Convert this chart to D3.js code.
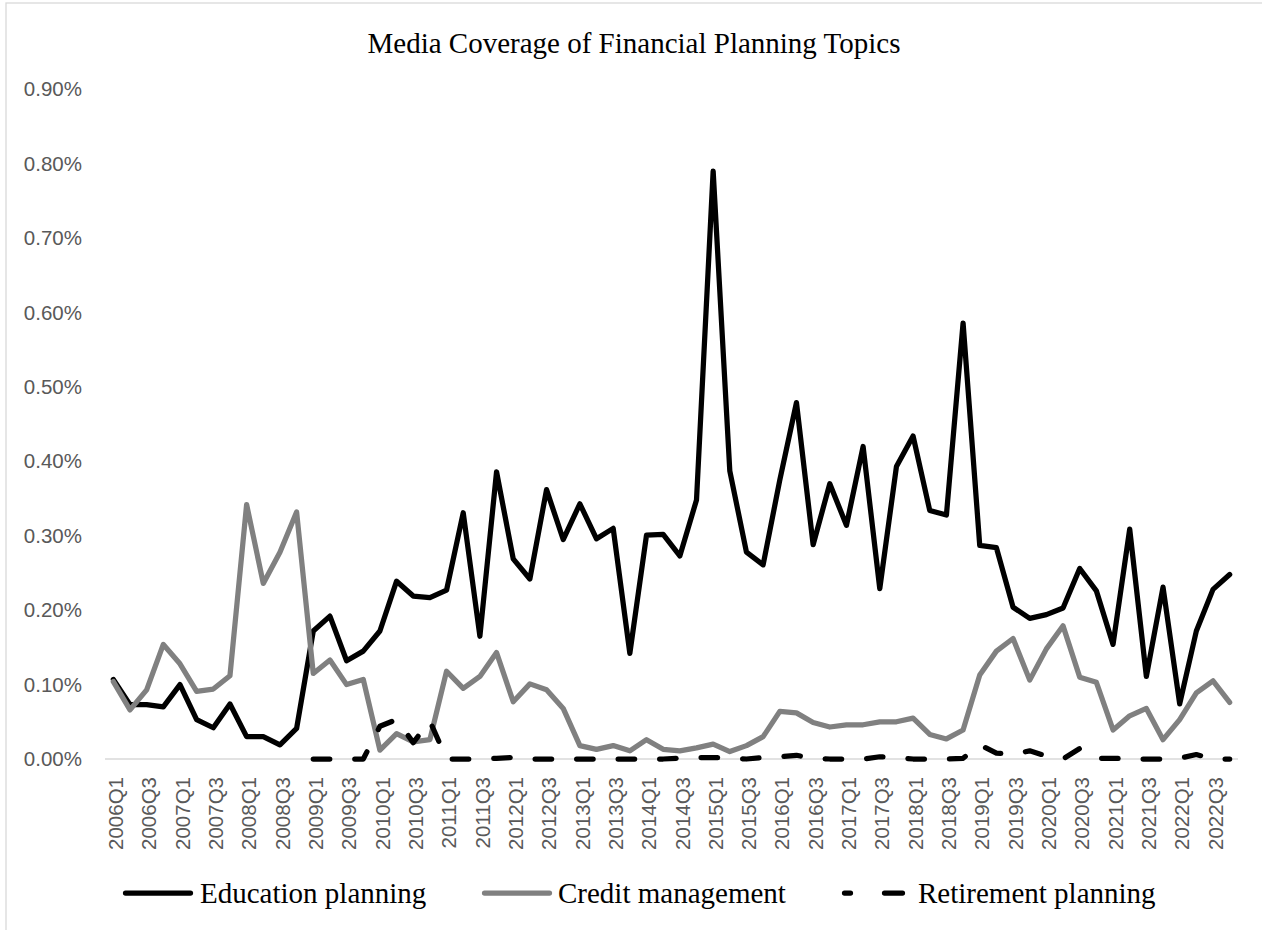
<!DOCTYPE html>
<html>
<head>
<meta charset="utf-8">
<script src="https://cdn.jsdelivr.net/npm/d3@7/dist/d3.min.js"></script>
<style>
  html, body { margin: 0; padding: 0; background: #fff; }
  svg { display: block; }
</style>
</head>
<body>
<svg id="chart" width="1262" height="930"></svg>
<script>
// Quarterly share of media coverage (in percent) for three planning topics
const quarters = [
  "2006Q1","2006Q2","2006Q3","2006Q4","2007Q1","2007Q2","2007Q3","2007Q4",
  "2008Q1","2008Q2","2008Q3","2008Q4","2009Q1","2009Q2","2009Q3","2009Q4",
  "2010Q1","2010Q2","2010Q3","2010Q4","2011Q1","2011Q2","2011Q3","2011Q4",
  "2012Q1","2012Q2","2012Q3","2012Q4","2013Q1","2013Q2","2013Q3","2013Q4",
  "2014Q1","2014Q2","2014Q3","2014Q4","2015Q1","2015Q2","2015Q3","2015Q4",
  "2016Q1","2016Q2","2016Q3","2016Q4","2017Q1","2017Q2","2017Q3","2017Q4",
  "2018Q1","2018Q2","2018Q3","2018Q4","2019Q1","2019Q2","2019Q3","2019Q4",
  "2020Q1","2020Q2","2020Q3","2020Q4","2021Q1","2021Q2","2021Q3","2021Q4",
  "2022Q1","2022Q2","2022Q3","2022Q4"
];

const educationPlanning = [
  0.107, 0.073, 0.073, 0.070, 0.100, 0.053, 0.042, 0.074,
  0.030, 0.030, 0.019, 0.041, 0.172, 0.192, 0.132, 0.145,
  0.172, 0.239, 0.219, 0.217, 0.227, 0.331, 0.165, 0.386,
  0.269, 0.242, 0.362, 0.295, 0.343, 0.296, 0.310, 0.142,
  0.301, 0.302, 0.273, 0.348, 0.790, 0.387, 0.278, 0.261,
  0.375, 0.479, 0.288, 0.370, 0.314, 0.420, 0.229, 0.393,
  0.434, 0.334, 0.328, 0.586, 0.287, 0.284, 0.204, 0.189,
  0.194, 0.203, 0.256, 0.226, 0.154, 0.309, 0.111, 0.231,
  0.074, 0.172, 0.228, 0.248
];

const creditManagement = [
  0.104, 0.066, 0.093, 0.154, 0.128, 0.091, 0.094, 0.112,
  0.342, 0.236, 0.278, 0.332, 0.115, 0.133, 0.100, 0.107,
  0.012, 0.034, 0.023, 0.026, 0.118, 0.095, 0.111, 0.143,
  0.077, 0.101, 0.093, 0.068, 0.018, 0.013, 0.018, 0.011,
  0.026, 0.013, 0.011, 0.015, 0.020, 0.010, 0.018, 0.030,
  0.064, 0.062, 0.049, 0.043, 0.046, 0.046, 0.050, 0.050,
  0.055, 0.033, 0.027, 0.039, 0.113, 0.145, 0.162, 0.106,
  0.148, 0.179, 0.110, 0.103, 0.039, 0.058, 0.068, 0.026,
  0.053, 0.089, 0.105, 0.076
];

// Retirement planning series has no observations before 2009Q1
const retirementPlanning = [
  null, null, null, null, null, null, null, null,
  null, null, null, null, 0.000, 0.000, 0.000, 0.000,
  0.044, 0.053, 0.022, 0.051, 0.000, 0.000, 0.000, 0.001,
  0.002, 0.000, 0.000, 0.000, 0.000, 0.000, 0.000, 0.000,
  0.000, 0.000, 0.001, 0.002, 0.002, 0.001, 0.000, 0.002,
  0.003, 0.005, 0.001, 0.000, 0.000, 0.000, 0.003, 0.002,
  0.000, 0.000, 0.000, 0.001, 0.019, 0.008, 0.006, 0.011,
  0.004, 0.000, 0.014, 0.001, 0.001, 0.000, 0.000, 0.000,
  0.001, 0.006, 0.000, 0.000
];

const yTicks = [0, 0.1, 0.2, 0.3, 0.4, 0.5, 0.6, 0.7, 0.8, 0.9];
const xTickLabels = quarters.filter((q, i) => i % 2 === 0);

const seriesNames = ["Education planning", "Credit management", "Retirement planning"];

const svg = d3.select("#chart");

// chart-area frame
svg.append("rect")
  .attr("x", 6).attr("y", 3)
  .attr("width", 1270).attr("height", 940)
  .attr("fill", "#fff")
  .attr("stroke", "#d9d9d9")
  .attr("stroke-width", 1.3);

const plot = { left: 105, right: 1238, top: 89.4, bottom: 759 };

const x = d3.scalePoint()
  .domain(quarters)
  .range([plot.left, plot.right])
  .padding(0.5);

const y = d3.scaleLinear()
  .domain([0, 0.9])
  .range([plot.bottom, plot.top]);

// title
svg.append("text")
  .attr("x", 634).attr("y", 53)
  .attr("text-anchor", "middle")
  .attr("font-family", "'Liberation Serif', 'Times New Roman', serif")
  .attr("font-size", 29)
  .attr("fill", "#000")
  .text("Media Coverage of Financial Planning Topics");

// y axis labels
const yAxis = d3.axisLeft(y)
  .tickValues(yTicks)
  .tickSize(0)
  .tickPadding(23)
  .tickFormat(d => d.toFixed(2) + "%");

const gy = svg.append("g")
  .attr("transform", `translate(${plot.left},0)`)
  .call(yAxis);
gy.select(".domain").remove();
gy.selectAll("text")
  .attr("font-family", "'Liberation Sans', Arial, sans-serif")
  .attr("font-size", 20.5)
  .attr("fill", "#595959");

// x axis with rotated quarter labels
const xAxis = d3.axisBottom(x)
  .tickValues(xTickLabels)
  .tickSize(0)
  .tickSizeOuter(0);

const gx = svg.append("g")
  .attr("transform", `translate(0,${plot.bottom})`)
  .call(xAxis);
gx.select(".domain")
  .attr("d", `M${plot.left},0H${plot.right}`)
  .attr("stroke", "#d9d9d9")
  .attr("stroke-width", 1.5);
gx.selectAll("text")
  .attr("font-family", "'Liberation Sans', Arial, sans-serif")
  .attr("font-size", 20.5)
  .attr("fill", "#595959")
  .attr("text-anchor", "end")
  .attr("transform", "rotate(-90)")
  .attr("x", -18)
  .attr("y", 2)
  .attr("dy", "0.35em");

// series lines
const line = d3.line()
  .defined(d => d.v !== null)
  .x(d => x(d.q))
  .y(d => y(d.v));

const toPoints = arr => quarters.map((q, i) => ({ q, v: arr[i] }));

const seriesStyles = [
  { data: educationPlanning, color: "#000000", dash: null },
  { data: creditManagement, color: "#808080", dash: null },
  { data: retirementPlanning, color: "#000000", dash: "16.5,25" }
];

const lineWidth = 5.25;

seriesStyles.forEach(s => {
  svg.append("path")
    .datum(toPoints(s.data))
    .attr("d", line)
    .attr("fill", "none")
    .attr("stroke", s.color)
    .attr("stroke-width", lineWidth)
    .attr("stroke-linejoin", "round")
    .attr("stroke-linecap", "round")
    .attr("stroke-dasharray", s.dash);
});

// legend
const legendItems = [
  { x1: 125.5, x2: 190.5, tx: 200, color: "#000000", dash: null },
  { x1: 484.5, x2: 549.5, tx: 558, color: "#808080", dash: null },
  { x1: 844.5, x2: 902.5, tx: 918, color: "#000000", dash: "6,34,18" }
];
const legendY = 893;

legendItems.forEach((it, i) => {
  svg.append("line")
    .attr("x1", it.x1).attr("x2", it.x2)
    .attr("y1", legendY).attr("y2", legendY)
    .attr("stroke", it.color)
    .attr("stroke-width", lineWidth)
    .attr("stroke-linecap", "round")
    .attr("stroke-dasharray", it.dash);
  svg.append("text")
    .attr("x", it.tx).attr("y", legendY + 10)
    .attr("font-family", "'Liberation Serif', 'Times New Roman', serif")
    .attr("font-size", 29)
    .attr("fill", "#000")
    .text(seriesNames[i]);
});
</script>
</body>
</html>
